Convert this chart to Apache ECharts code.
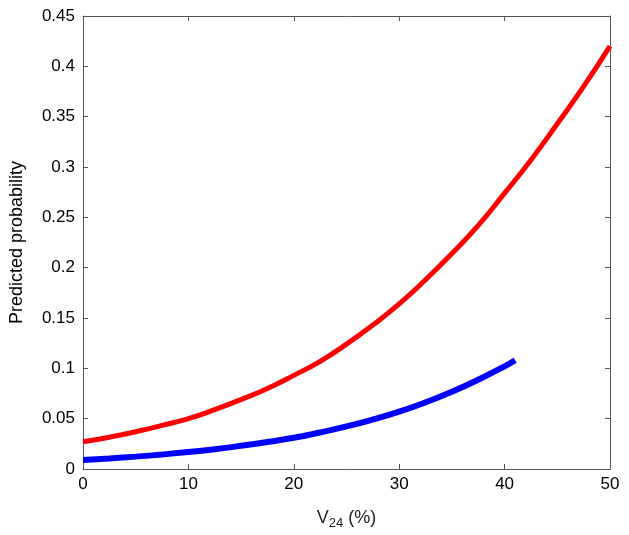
<!DOCTYPE html>
<html>
<head>
<meta charset="utf-8">
<script src="https://cdn.jsdelivr.net/npm/echarts@6/dist/echarts.min.js"></script>
<style>
html, body { margin: 0; padding: 0; background: #fff; overflow: hidden; }
#chart { width: 629px; height: 535px; }
</style>
</head>
<body>
<div id="chart"></div>
<script>
// values
var redX = [0, 2.5, 5, 7.5, 10, 12.5, 15, 17.5, 20, 22.5, 25, 27.5, 30, 32.5, 35, 37.5, 40, 42.5, 45, 47.5, 50]
var redY = [0.027, 0.0316, 0.037, 0.0433, 0.050, 0.059, 0.069, 0.080, 0.093, 0.107, 0.124, 0.143, 0.164, 0.188, 0.214, 0.242, 0.274, 0.307, 0.343, 0.380, 0.42]
var blueX = [0, 2.5, 5, 7.5, 10, 12.5, 15, 17.5, 20, 22.5, 25, 27.5, 30, 32.5, 35, 37.5, 40, 41]
var blueY = [0.009, 0.0105, 0.0123, 0.0144, 0.0168, 0.0196, 0.023, 0.0268, 0.031, 0.0363, 0.0423, 0.0492, 0.057, 0.0662, 0.0767, 0.0887, 0.102, 0.108]

function pairs (xs, ys) {
  return xs.map(function (x, i) { return [x, ys[i]] })
}

var font = 'Liberation Sans, Arial, sans-serif'
var axisLine = { show: true, onZero: false, lineStyle: { color: '#555', width: 1 } }
var tick = { show: true, inside: true, length: 5, lineStyle: { color: '#555' } }

var chart = echarts.init(document.getElementById('chart'))
chart.setOption({
  animation: false,
  grid: { left: 82, top: 16, right: 19, bottom: 63 },
  xAxis: [
    {
      type: 'value', min: 0, max: 50, interval: 10,
      axisLine: axisLine, axisTick: tick, splitLine: { show: false },
      axisLabel: { color: '#000', fontSize: 17, fontFamily: font, margin: 7 },
      name: '{v|V}{s|24}{v| (%)}',
      nameLocation: 'middle', nameGap: 37,
      nameTextStyle: {
        rich: {
          v: { fontSize: 18, fontFamily: font, color: '#222' },
          s: { fontSize: 13, fontFamily: font, color: '#222', padding: [11, 0, 0, 0] }
        }
      }
    },
    {
      type: 'value', position: 'top', min: 0, max: 50, interval: 10,
      axisLine: axisLine, axisTick: tick, axisLabel: { show: false }, splitLine: { show: false }
    }
  ],
  yAxis: [
    {
      type: 'value', min: 0, max: 0.45, interval: 0.05,
      axisLine: axisLine, axisTick: tick, splitLine: { show: false },
      axisLabel: { color: '#000', fontSize: 17, fontFamily: font, margin: 8 },
      name: 'Predicted probability',
      nameLocation: 'middle', nameGap: 57, nameRotate: 90,
      nameTextStyle: { fontSize: 18, fontFamily: font, color: '#000' }
    },
    {
      type: 'value', position: 'right', min: 0, max: 0.45, interval: 0.05,
      axisLine: axisLine, axisTick: tick, axisLabel: { show: false }, splitLine: { show: false }
    }
  ],
  series: [
    {
      type: 'line', smooth: true, showSymbol: false,
      data: pairs(redX, redY),
      lineStyle: { color: '#ff0000', width: 5 }
    },
    {
      type: 'line', smooth: true, showSymbol: false,
      data: pairs(blueX, blueY),
      lineStyle: { color: '#0000ff', width: 6 }
    }
  ]
})
</script>
</body>
</html>
